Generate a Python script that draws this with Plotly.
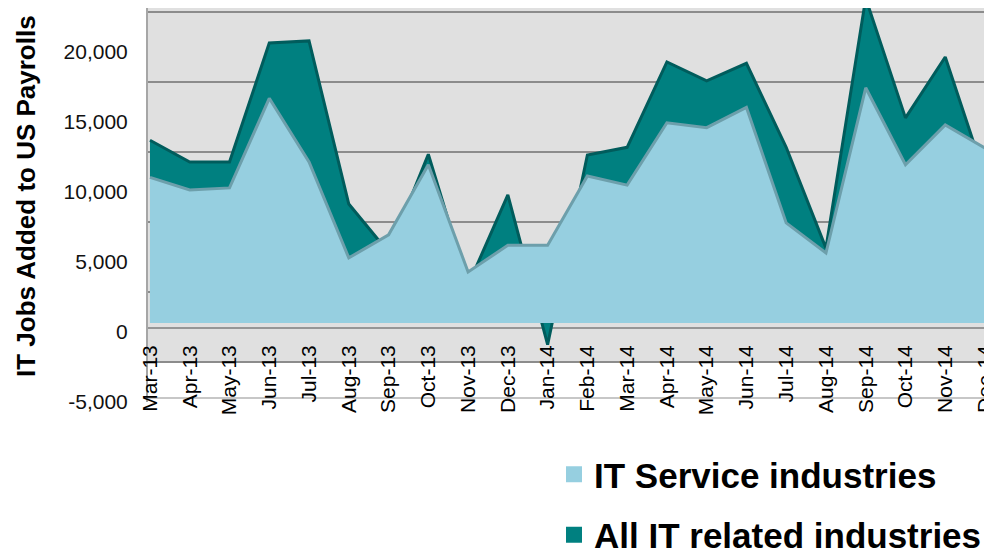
import plotly.graph_objects as go

# monthly IT jobs added
months = ["Mar-13", "Apr-13", "May-13", "Jun-13", "Jul-13", "Aug-13", "Sep-13",
          "Oct-13", "Nov-13", "Dec-13", "Jan-14", "Feb-14", "Mar-14", "Apr-14",
          "May-14", "Jun-14", "Jul-14", "Aug-14", "Sep-14", "Oct-14", "Nov-14",
          "Dec-14"]
it_service = [10400, 9500, 9650, 16050, 11500, 4650, 6300, 11300, 3650, 5550,
              5550, 10500, 9850, 14300, 13950, 15400, 7150, 5000, 16800, 11300,
              14150, 12500]
all_it = [13050, 11500, 11500, 20000, 20150, 8500, 5050, 12050, 2700, 9150,
          -1550, 12000, 12550, 18650, 17300, 18550, 12550, 5350, 23200, 14650,
          19000, 10450]
y_ticks = [-5000, 0, 5000, 10000, 15000, 20000]

FONT = "Liberation Sans, Arial, sans-serif"
LIGHT = "#96cfe0"
TEAL = "#008080"

# layout worked out in page pixels; the page body adds an 8px margin
BODY = 8
PAGE_W, PAGE_H = 992, 553
W, H = PAGE_W - BODY, PAGE_H - BODY
LEFT, RIGHT = 148 - BODY, 987 - BODY
TOP, BOTTOM = 0, 402 - BODY
PX = 70 / 5000          # pixels per job
BASE = 323 - BODY       # where the areas sit (floor of the 3d chart)
plot_h = BOTTOM - TOP
plot_w = RIGHT - LEFT


def py(page_y):
    return (BOTTOM - (page_y - BODY)) / plot_h


def px(page_x):
    return ((page_x - BODY) - LEFT) / plot_w


fig = go.Figure()

# legend entries as square swatches (these also carry the labelled axis)
for name, col, grp in [("IT Service industries", LIGHT, "a"),
                       ("All IT related industries", TEAL, "b")]:
    fig.add_trace(go.Scatter(
        x=[None], y=[None], mode="markers", name=name, legendgroup=grp,
        marker=dict(symbol="square", size=19, color=col)))

# back series first, front series on top
fig.add_trace(go.Scatter(
    x=months, y=all_it, mode="lines", fill="tozeroy", yaxis="y2",
    fillcolor=TEAL, line=dict(color="#005c5c", width=3),
    name="All IT related industries", showlegend=False))
fig.add_trace(go.Scatter(
    x=months, y=it_service, mode="lines", fill="tozeroy", yaxis="y2",
    fillcolor=LIGHT, line=dict(color="#6d9fab", width=3),
    name="IT Service industries", showlegend=False))

# wall + floor background and floor lines
fig.add_shape(type="rect", xref="paper", yref="paper", x0=0, x1=1,
              y0=py(363), y1=1, fillcolor="#e0e0e0", line_width=0,
              layer="below")
fig.add_shape(type="line", xref="paper", yref="paper", x0=0, x1=1,
              y0=py(328), y1=py(328),
              line=dict(color="#969696", width=2), layer="below")
fig.add_shape(type="line", xref="paper", yref="paper", x0=0, x1=1,
              y0=py(398), y1=py(398),
              line=dict(color="#b4b4b4", width=1.5), layer="below")

fig.add_annotation(
    text="<b>IT Jobs Added to US Payrolls</b>", textangle=-90,
    xref="paper", yref="paper", x=px(25.5), y=py(196.5),
    xanchor="center", yanchor="middle", showarrow=False,
    font=dict(family=FONT, size=26, color="black"))

fig.update_layout(
    width=W, height=H,
    margin=dict(l=LEFT, r=W - RIGHT, t=TOP, b=H - BOTTOM, autoexpand=False),
    paper_bgcolor="white", plot_bgcolor="rgba(0,0,0,0)",
    font=dict(family=FONT, color="black"),
    xaxis=dict(
        type="category", range=[-0.05, 21.05], anchor="free",
        position=py(340), tickangle=-90, showgrid=False,
        showline=False, ticks="", zeroline=False, automargin=False,
        tickfont=dict(family=FONT, size=21, color="black")),
    yaxis=dict(
        range=[-5000, -5000 + plot_h / PX], tickvals=y_ticks,
        ticktext=[f"{v:,}" for v in y_ticks],
        showgrid=False, zeroline=False, automargin=False,
        showline=True, linecolor="#a6a6a6", linewidth=2, ticks="",
        ticklabelstandoff=14,
        tickfont=dict(family=FONT, size=21, color="#111111")),
    yaxis2=dict(
        overlaying="y", side="left", anchor="x", automargin=False,
        range=[-(BOTTOM - BASE) / PX, (BASE - TOP) / PX],
        tick0=(BASE - (292 - BODY)) / PX, dtick=5000, showticklabels=False,
        showgrid=True, gridcolor="#8c8c8c", gridwidth=2, zeroline=False,
        showline=False, ticks=""),
    legend=dict(
        xref="container", yref="container",
        x=(554 - BODY) / W, y=1 - (445 - BODY) / H,
        xanchor="left", yanchor="top", tracegroupgap=12,
        bgcolor="rgba(0,0,0,0)",
        font=dict(family=FONT, size=35, color="black", weight="bold")),
    showlegend=True,
)

fig.write_html("out.html")
